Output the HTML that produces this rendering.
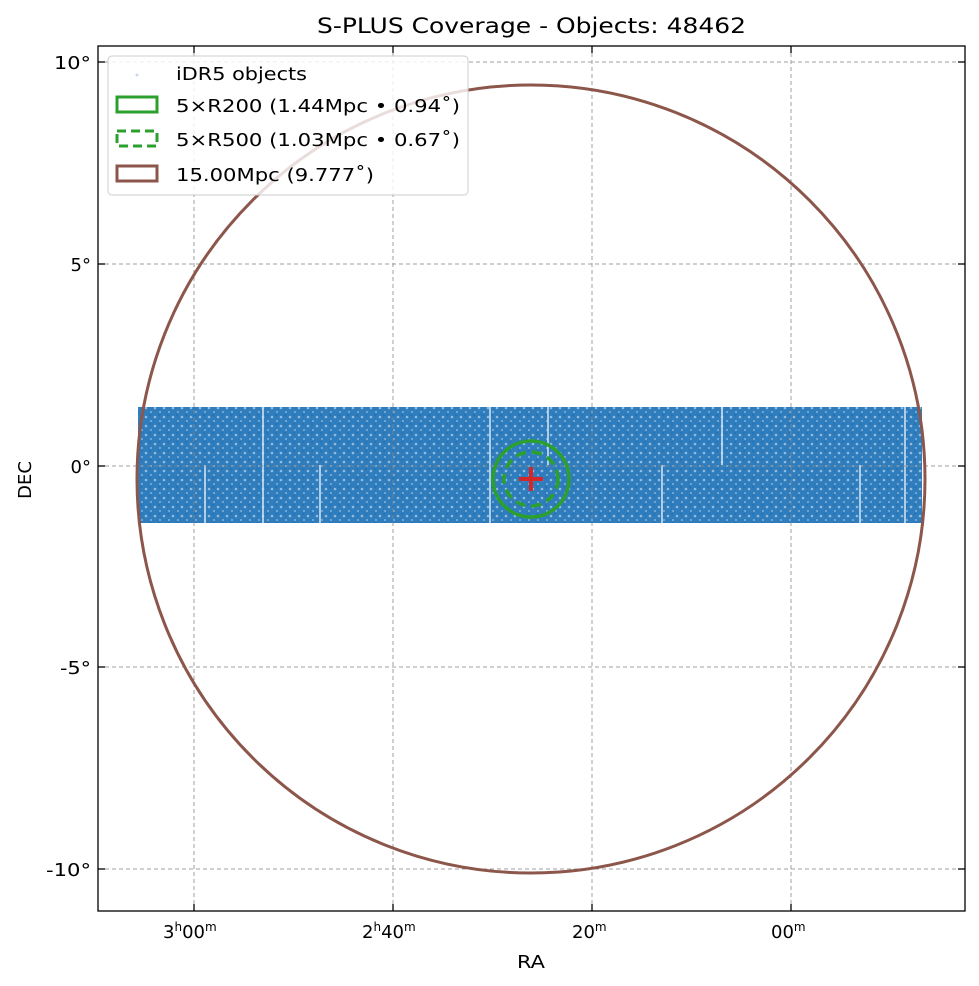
<!DOCTYPE html>
<html><head><style>body{margin:0;background:#fff}svg{display:block}text{font-family:"DejaVu Sans","Liberation Sans",sans-serif;fill:#000}</style></head>
<body>
<svg width="979" height="986" xmlns="http://www.w3.org/2000/svg">
<defs>
<pattern id="dots" width="9" height="9" patternUnits="userSpaceOnUse">
<circle cx="2" cy="3" r="1.3" fill="#bcd6ec" opacity="0.7"/>
<circle cx="7" cy="7" r="1" fill="#bcd6ec" opacity="0.6"/>
<circle cx="6" cy="1" r="1.2" fill="#1f6fb0" opacity="0.6"/>
</pattern>
</defs>
<rect width="979" height="986" fill="#fff"/>
<text x="317" y="33" font-size="21" textLength="429" lengthAdjust="spacingAndGlyphs">S-PLUS Coverage - Objects: 48462</text>
<rect x="138" y="407" width="784" height="116" fill="#2f7dbd"/>
<rect x="138" y="407" width="784" height="116" fill="url(#dots)"/>
<g stroke="#cfe2f2" stroke-width="2" opacity="0.8">
<line x1="205" y1="465" x2="205" y2="523"/><line x1="263" y1="407" x2="263" y2="465"/>
<line x1="320" y1="465" x2="320" y2="523"/><line x1="263" y1="465" x2="263" y2="523"/>
<line x1="490" y1="407" x2="490" y2="523"/><line x1="548" y1="407" x2="548" y2="465"/>
<line x1="662" y1="465" x2="662" y2="523"/><line x1="722" y1="407" x2="722" y2="465"/>
<line x1="860" y1="465" x2="860" y2="523"/><line x1="905" y1="407" x2="905" y2="523"/>
</g>
<g stroke="#888" stroke-width="1" stroke-dasharray="4,3" opacity="0.8">
<line x1="194" y1="46" x2="194" y2="911"/><line x1="393" y1="46" x2="393" y2="911"/>
<line x1="592" y1="46" x2="592" y2="911"/><line x1="791" y1="46" x2="791" y2="911"/>
<line x1="98" y1="62" x2="965" y2="62"/><line x1="98" y1="264" x2="965" y2="264"/>
<line x1="98" y1="466" x2="965" y2="466"/><line x1="98" y1="667" x2="965" y2="667"/>
<line x1="98" y1="869" x2="965" y2="869"/>
</g>
<circle cx="531" cy="479" r="394" fill="none" stroke="#8c564b" stroke-width="3"/>
<circle cx="531" cy="479" r="38" fill="none" stroke="#2ca02c" stroke-width="3.5"/>
<circle cx="531" cy="479" r="27" fill="none" stroke="#2ca02c" stroke-width="3.5" stroke-dasharray="10,6"/>
<g stroke="#d62728" stroke-width="4"><line x1="519" y1="479" x2="543" y2="479"/><line x1="531" y1="467" x2="531" y2="491"/></g>
<rect x="98" y="46" width="867" height="865" fill="none" stroke="#000" stroke-width="1.3"/>
<g stroke="#000" stroke-width="1.3">
<line x1="194" y1="911" x2="194" y2="904"/><line x1="393" y1="911" x2="393" y2="904"/><line x1="592" y1="911" x2="592" y2="904"/><line x1="791" y1="911" x2="791" y2="904"/>
<line x1="194" y1="46" x2="194" y2="53"/><line x1="393" y1="46" x2="393" y2="53"/><line x1="592" y1="46" x2="592" y2="53"/><line x1="791" y1="46" x2="791" y2="53"/>
<line x1="98" y1="62" x2="105" y2="62"/><line x1="98" y1="264" x2="105" y2="264"/><line x1="98" y1="466" x2="105" y2="466"/><line x1="98" y1="667" x2="105" y2="667"/><line x1="98" y1="869" x2="105" y2="869"/>
<line x1="965" y1="62" x2="958" y2="62"/><line x1="965" y1="264" x2="958" y2="264"/><line x1="965" y1="466" x2="958" y2="466"/><line x1="965" y1="667" x2="958" y2="667"/><line x1="965" y1="869" x2="958" y2="869"/>
</g>
<g font-size="18">
<text x="54" y="69" textLength="37" lengthAdjust="spacingAndGlyphs">10°</text>
<text x="91" y="271" text-anchor="end">5°</text>
<text x="91" y="473" text-anchor="end">0°</text>
<text x="60" y="674" textLength="31" lengthAdjust="spacingAndGlyphs">-5°</text>
<text x="46" y="876" textLength="45" lengthAdjust="spacingAndGlyphs">-10°</text>
</g>
<g font-size="18">
<text x="163" y="938">3<tspan font-size="12" dy="-7">h</tspan><tspan dy="7">00</tspan><tspan font-size="12" dy="-7">m</tspan></text>
<text x="362" y="938">2<tspan font-size="12" dy="-7">h</tspan><tspan dy="7">40</tspan><tspan font-size="12" dy="-7">m</tspan></text>
<text x="572" y="938">20<tspan font-size="12" dy="-7">m</tspan></text>
<text x="771" y="938">00<tspan font-size="12" dy="-7">m</tspan></text>
</g>
<text x="517" y="968" font-size="18" textLength="28" lengthAdjust="spacingAndGlyphs">RA</text>
<text x="31" y="480" font-size="18" text-anchor="middle" transform="rotate(-90 31 480)">DEC</text>
<rect x="108" y="56" width="360" height="139" rx="4" fill="#fff" fill-opacity="0.8" stroke="#ccc"/>
<circle cx="137" cy="75" r="1.5" fill="#c8d8e8"/>
<rect x="117" y="97" width="40" height="15" fill="none" stroke="#2ca02c" stroke-width="3"/>
<rect x="117" y="131" width="40" height="15" fill="none" stroke="#2ca02c" stroke-width="3" stroke-dasharray="9,5"/>
<rect x="117" y="166" width="40" height="15" fill="none" stroke="#8c564b" stroke-width="3"/>
<g font-size="18">
<text x="176" y="80" textLength="131" lengthAdjust="spacingAndGlyphs">iDR5 objects</text>
<text x="176" y="112" textLength="284" lengthAdjust="spacingAndGlyphs">5×R200 (1.44Mpc • 0.94˚)</text>
<text x="176" y="146" textLength="284" lengthAdjust="spacingAndGlyphs">5×R500 (1.03Mpc • 0.67˚)</text>
<text x="176" y="181" textLength="198" lengthAdjust="spacingAndGlyphs">15.00Mpc (9.777˚)</text>
</g>
</svg>
</body></html>
